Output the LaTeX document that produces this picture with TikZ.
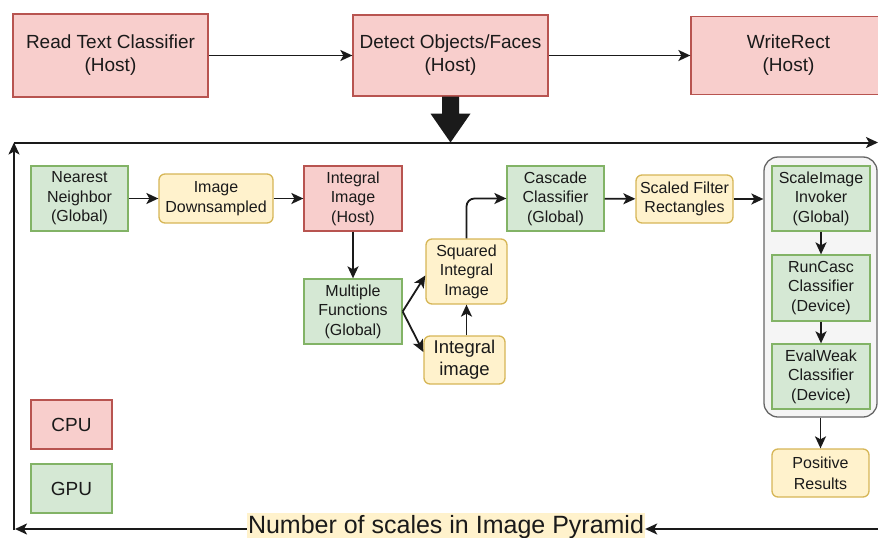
\documentclass[tikz,border=0pt]{standalone}
\usepackage{fontspec}
\setmainfont{Liberation Sans}
\usetikzlibrary{arrows.meta,calc}

\definecolor{cpuF}{HTML}{F8CECC}\definecolor{cpuD}{HTML}{B85450}
\definecolor{gpuF}{HTML}{D5E8D4}\definecolor{gpuD}{HTML}{82B366}
\definecolor{datF}{HTML}{FFF2CC}\definecolor{datD}{HTML}{D6B656}
\definecolor{grpF}{HTML}{F5F5F5}\definecolor{grpD}{HTML}{666666}
\definecolor{ink}{HTML}{1A1A1A}

\newcommand{\fsTop}{\fontsize{19}{23}\selectfont}
\newcommand{\fsMid}{\fontsize{16}{19.4}\selectfont}
\newcommand{\fsBig}{\fontsize{18.5}{22}\selectfont}
\newcommand{\fsLbl}{\fontsize{25}{28}\selectfont}

\begin{document}
\begin{tikzpicture}[x=1pt,y=-1pt,
  every node/.style={inner sep=0pt,align=center,text=ink},
  box/.style={line width=1.3pt,minimum width=#1},
  cpubox/.style={box=#1,fill=cpuF,draw=cpuD},
  gpubox/.style={box=#1,fill=gpuF,draw=gpuD},
  databox/.style={box=#1,fill=datF,draw=datD,rounded corners=6pt},
  groupbox/.style={line width=1.3pt,fill=grpF,draw=grpD,rounded corners=14pt},
  tip/.style={-{Stealth[length=12pt,width=11pt,inset=3pt]}},
  link/.style={line width=1.8pt,draw=ink,tip},
  loop/.style={line width=2pt,draw=ink,tip}]

\useasboundingbox (0,0) rectangle (878,538);

% host stages
\node[cpubox=195, minimum height=83, font=\fsTop] (rtc) at (110.5,55.5) {Read Text Classifier\\(Host)};
\node[cpubox=195, minimum height=81, font=\fsTop] (doh) at (450.5,55.5) {Detect Objects/Faces\\(Host)};
\node[cpubox=195, minimum height=78, font=\fsTop] (wr) at (788.5,55.5) {WriteRect\\(Host)};

\draw[link] (rtc) -- (doh);
\draw[link] (doh) -- (wr);

% scale loop frame
\coordinate (tl) at (14,142.5);
\coordinate (tr) at (878,142.5);
\coordinate (br) at (878,529);
\coordinate (bl) at (14,530);
\coordinate (blTip) at (15,529);

% block arrow down into the loop
\fill[ink] ($(doh.south)+(-8.5,0)$) -- ($(doh.south)+(-8.5,17)$) -- ($(doh.south)+(-20,17)$)
  -- (doh.south |- tl) -- ($(doh.south)+(20,17)$) -- ($(doh.south)+(8.5,17)$)
  -- ($(doh.south)+(8.5,0)$) -- cycle;

\draw[loop] (tl) -- (tr);
\draw[loop] (bl) -- (tl);

% per-scale pipeline
\node[gpubox=97, minimum height=65, font=\fsMid] (nn) at (79.5,198.5) {Nearest\\Neighbor\\(Global)};
\node[databox=114, minimum height=49, font=\fsMid] (ids) at (216,198.5) {Image\\Downsampled};
\node[cpubox=98, minimum height=65, font=\fsMid] (ih) at (353,198.5) {Integral\\Image\\(Host)};
\node[gpubox=98, minimum height=65, font=\fsMid] (mf) at (353,311.5) {Multiple\\Functions\\(Global)};
\node[databox=81, minimum height=65, font=\fsMid] (sq) at (466.5,271.5) {Squared\\Integral\\Image};
\node[databox=81, minimum height=48, font=\fsBig] (ii) at (464.5,360) {Integral\\image};
\node[gpubox=97, minimum height=65, font=\fsMid] (cc) at (555.5,198.5) {Cascade\\Classifier\\(Global)};
\node[databox=97, minimum height=48, font=\fsMid] (sfr) at (684.5,199) {Scaled Filter\\Rectangles};

\node[groupbox, minimum width=113, minimum height=260] (grp) at (820.5,287) {};
\node[gpubox=98, minimum height=65, font=\fsMid] (sii) at (821,198.5) {ScaleImage\\Invoker\\(Global)};
\node[gpubox=98, minimum height=66, font=\fsMid] (rcc) at (821,288) {RunCasc\\Classifier\\(Device)};
\node[gpubox=98, minimum height=65, font=\fsMid] (ewc) at (821,376.5) {EvalWeak\\Classifier\\(Device)};
\node[databox=97, minimum height=48, font=\fontsize{16}{21}\selectfont] (pr) at (820.5,473) {Positive\\Results};

\draw[link] (nn) -- (ids);
\draw[link] (ids) -- (ih);
\draw[link] (ih) -- (mf);
\draw[link] (mf.east) -- ($(sq.west)+(0,4)$);
\draw[link] (mf.east) -- ($(ii.west)+(0,-8)$);
\draw[link] (ii.north -| sq.south) -- (sq.south);
\draw[link,rounded corners=8pt] (sq.north) |- (cc.west);
\draw[link] (cc) -- (sfr);
\draw[link] (sfr) -- (sfr -| grp.west);
\draw[link] (sii) -- (rcc);
\draw[link] (rcc) -- (ewc);
\draw[link] (grp.south -| pr) -- (pr);

% legend
\node[cpubox=81, minimum height=49, font=\fsTop] (cpu) at (71.5,424.5) {CPU};
\node[gpubox=81, minimum height=49, font=\fsTop] (gpu) at (71.5,488.5) {GPU};

% loop count label on the return edge
\node[fill=datF, inner xsep=1pt, minimum height=30, font=\fsLbl] (lbl) at (446,527.5) {Number of scales in Image Pyramid};
\draw[loop] (br) -- (lbl.east |- br);
\draw[loop] (lbl.west |- br) -- (blTip);
\end{tikzpicture}
\end{document}
